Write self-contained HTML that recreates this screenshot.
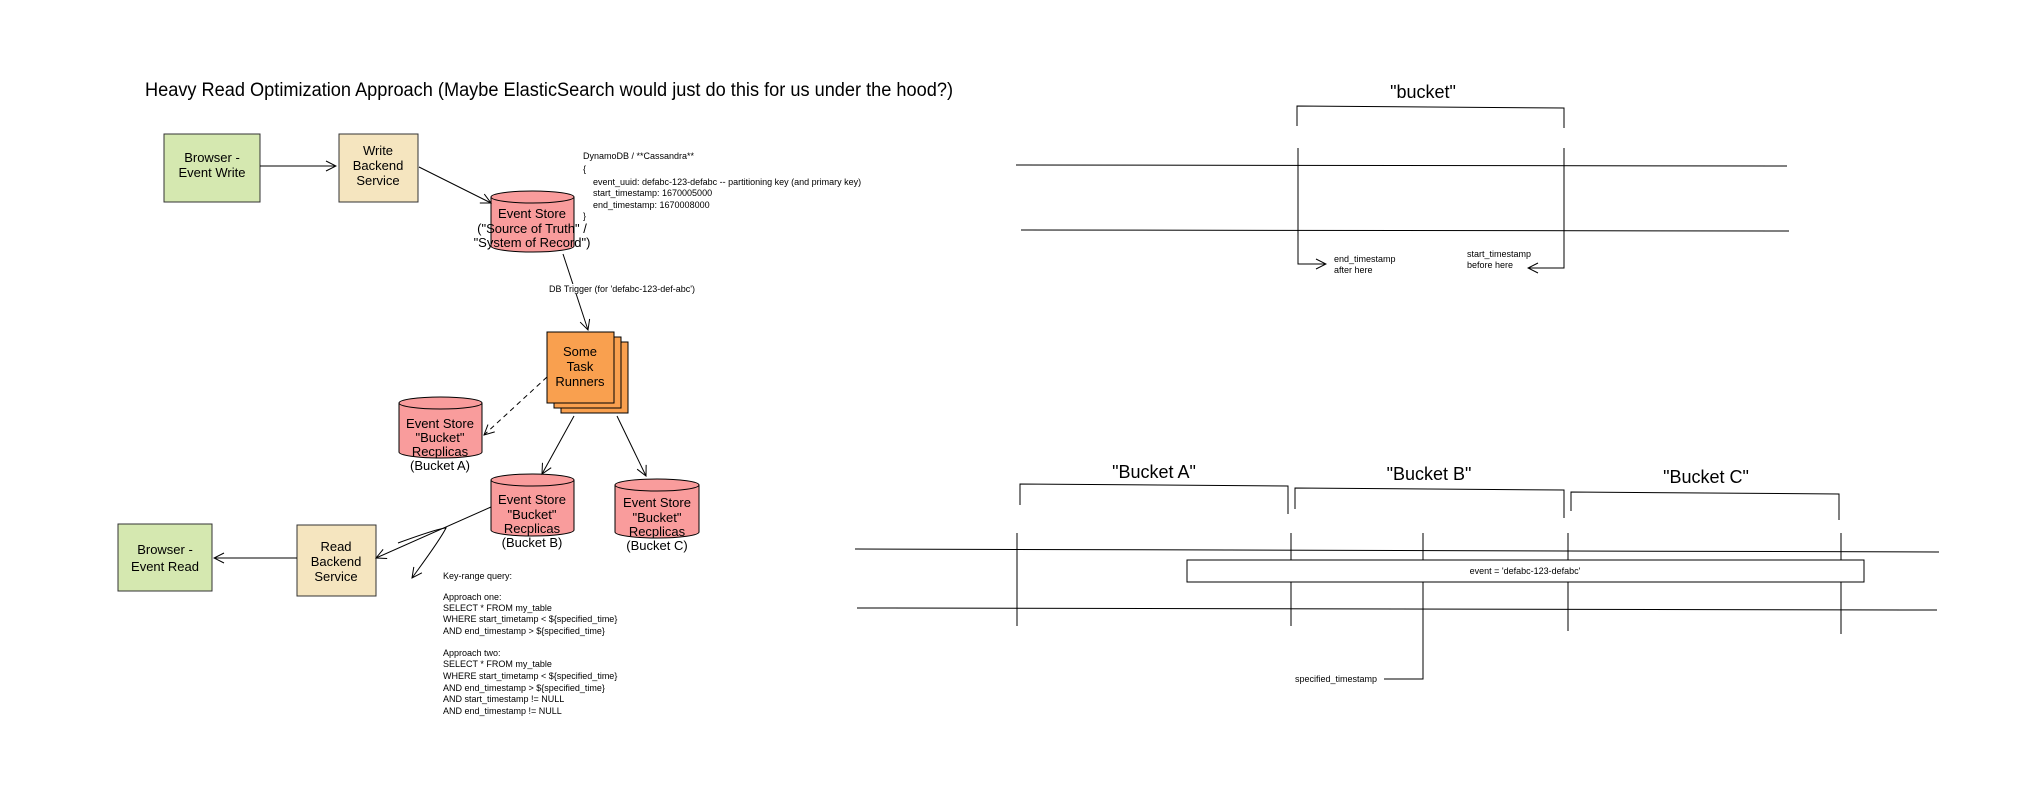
<!DOCTYPE html>
<html><head><meta charset="utf-8"><style>
html,body{margin:0;padding:0;background:#fff;}
svg{display:block;font-family:"Liberation Sans",Arial,sans-serif;}
</style></head><body>
<svg width="2019" height="788" viewBox="0 0 2019 788" xmlns="http://www.w3.org/2000/svg">
<defs>
<marker id="oa" viewBox="0 0 12 12" refX="11" refY="6" markerWidth="12" markerHeight="12" orient="auto" markerUnits="userSpaceOnUse">
<path d="M1,1 L11,6 L1,11" fill="none" stroke="#000" stroke-width="1"/></marker>
</defs>
<rect width="2019" height="788" fill="#fff"/>
<text x="145" y="96" font-size="19" textLength="808" lengthAdjust="spacingAndGlyphs">Heavy Read Optimization Approach (Maybe ElasticSearch would just do this for us under the hood?)</text>

<g stroke="#000" stroke-width="1" fill="none">
<rect x="164" y="134" width="96" height="68" fill="#d5e8b0" stroke="#333"/>
<rect x="339" y="134" width="79" height="68" fill="#f5e5bf" stroke="#333"/>
<rect x="297" y="525" width="79" height="71" fill="#f5e5bf" stroke="#333"/>
<rect x="118" y="524" width="94" height="67" fill="#d5e8b0" stroke="#333"/>
<rect x="561" y="342" width="67" height="71" fill="#f9a04f"/>
<rect x="554" y="337" width="67" height="71" fill="#f9a04f"/>
<rect x="547" y="332" width="67" height="71" fill="#f9a04f"/>
</g>
<g stroke="#000" stroke-width="1" fill="#f99c9c">
<path d="M491,197 v49 a41.5,6 0 0 0 83,0 v-49"/><ellipse cx="532.5" cy="197" rx="41.5" ry="6"/>
<path d="M399,403 v49 a41.5,6 0 0 0 83,0 v-49"/><ellipse cx="440.5" cy="403" rx="41.5" ry="6"/>
<path d="M491,480 v50 a41.5,6 0 0 0 83,0 v-50"/><ellipse cx="532.5" cy="480" rx="41.5" ry="6"/>
<path d="M615,485 v47 a42,6 0 0 0 84,0 v-47"/><ellipse cx="657" cy="485" rx="42" ry="6"/>
</g>
<g stroke="#000" stroke-width="1" fill="none" marker-end="url(#oa)">
<line x1="260" y1="166" x2="336" y2="166"/>
<line x1="419" y1="167" x2="491" y2="203"/>
<line x1="563" y1="254" x2="588" y2="330"/>
<line x1="547" y1="377" x2="484" y2="435" stroke-dasharray="5,4"/>
<line x1="574" y1="416" x2="542" y2="474"/>
<line x1="617" y1="416" x2="646" y2="476"/>
<line x1="297" y1="558" x2="214" y2="558"/>
<line x1="491" y1="507" x2="376" y2="558"/>
<path d="M398,543 C420,535 440,528 446,528 C440,540 425,560 412,578"/>
</g>
<g font-size="13" text-anchor="middle" fill="#000">
<text x="212" y="162">Browser -</text><text x="212" y="177">Event Write</text>
<text x="378" y="155">Write</text><text x="378" y="170">Backend</text><text x="378" y="185">Service</text>
<text x="532" y="218">Event Store</text><text x="532" y="233">("Source of Truth" /</text><text x="532" y="247">"System of Record")</text>
<text x="580" y="356">Some</text><text x="580" y="371">Task</text><text x="580" y="386">Runners</text>
<text x="440" y="428">Event Store</text><text x="440" y="442">"Bucket"</text><text x="440" y="456">Recplicas</text><text x="440" y="470">(Bucket A)</text>
<text x="532" y="504">Event Store</text><text x="532" y="519">"Bucket"</text><text x="532" y="533">Recplicas</text><text x="532" y="547">(Bucket B)</text>
<text x="657" y="507">Event Store</text><text x="657" y="522">"Bucket"</text><text x="657" y="536">Recplicas</text><text x="657" y="550">(Bucket C)</text>
<text x="336" y="551">Read</text><text x="336" y="566">Backend</text><text x="336" y="581">Service</text>
<text x="165" y="554">Browser -</text><text x="165" y="571">Event Read</text>
</g>
<g font-size="9" fill="#000">
<text x="583" y="159">DynamoDB / **Cassandra**</text>
<text x="583" y="172">{</text>
<text x="593" y="185">event_uuid: defabc-123-defabc -- partitioning key (and primary key)</text>
<text x="593" y="196">start_timestamp: 1670005000</text>
<text x="593" y="208">end_timestamp: 1670008000</text>
<text x="583" y="219">}</text>
<rect x="548" y="284" width="165" height="10" fill="#fff"/>
<text x="549" y="292">DB Trigger (for 'defabc-123-def-abc')</text>
<text x="443" y="579">Key-range query:</text>
<text x="443" y="600">Approach one:</text>
<text x="443" y="611">SELECT * FROM my_table</text>
<text x="443" y="622">WHERE start_timetamp &lt; ${specified_time}</text>
<text x="443" y="634">AND end_timestamp &gt; ${specified_time}</text>
<text x="443" y="656">Approach two:</text>
<text x="443" y="667">SELECT * FROM my_table</text>
<text x="443" y="679">WHERE start_timetamp &lt; ${specified_time}</text>
<text x="443" y="691">AND end_timestamp &gt; ${specified_time}</text>
<text x="443" y="702">AND start_timestamp != NULL</text>
<text x="443" y="714">AND end_timestamp != NULL</text>
</g>

<g stroke="#000" stroke-width="1" fill="none">
<polyline points="1297,126 1297,106 1564,108 1564,128"/>
<line x1="1016" y1="165" x2="1787" y2="166"/>
<line x1="1021" y1="230" x2="1789" y2="231"/>
<polyline points="1298,148 1298,264 1326,264" marker-end="url(#oa)"/>
<polyline points="1564,148 1564,268 1528,268" marker-end="url(#oa)"/>
</g>
<text x="1423" y="98" font-size="18" text-anchor="middle">"bucket"</text>
<g font-size="9">
<text x="1334" y="262">end_timestamp</text><text x="1334" y="273">after here</text>
<text x="1467" y="257">start_timestamp</text><text x="1467" y="268">before here</text>
</g>

<g stroke="#000" stroke-width="1" fill="none">
<polyline points="1020,505 1020,484 1288,486 1288,514"/>
<polyline points="1295,509 1295,488 1564,490 1564,518"/>
<polyline points="1571,511 1571,492 1839,494 1839,520"/>
<line x1="855" y1="549" x2="1939" y2="552"/>
<line x1="857" y1="608" x2="1937" y2="610"/>
<line x1="1017" y1="533" x2="1017" y2="626"/>
<line x1="1291" y1="533" x2="1291" y2="626"/>
<line x1="1568" y1="533" x2="1568" y2="631"/>
<line x1="1841" y1="533" x2="1841" y2="634"/>
<polyline points="1423,533 1423,679 1384,679"/>
<rect x="1187" y="560" width="677" height="22" fill="#fff"/>
</g>
<text x="1525" y="574" font-size="9" text-anchor="middle">event = 'defabc-123-defabc'</text>
<text x="1295" y="682" font-size="9">specified_timestamp</text>
<g font-size="18" text-anchor="middle">
<text x="1154" y="478">"Bucket A"</text>
<text x="1429" y="480">"Bucket B"</text>
<text x="1706" y="483">"Bucket C"</text>
</g>
</svg>
</body></html>
